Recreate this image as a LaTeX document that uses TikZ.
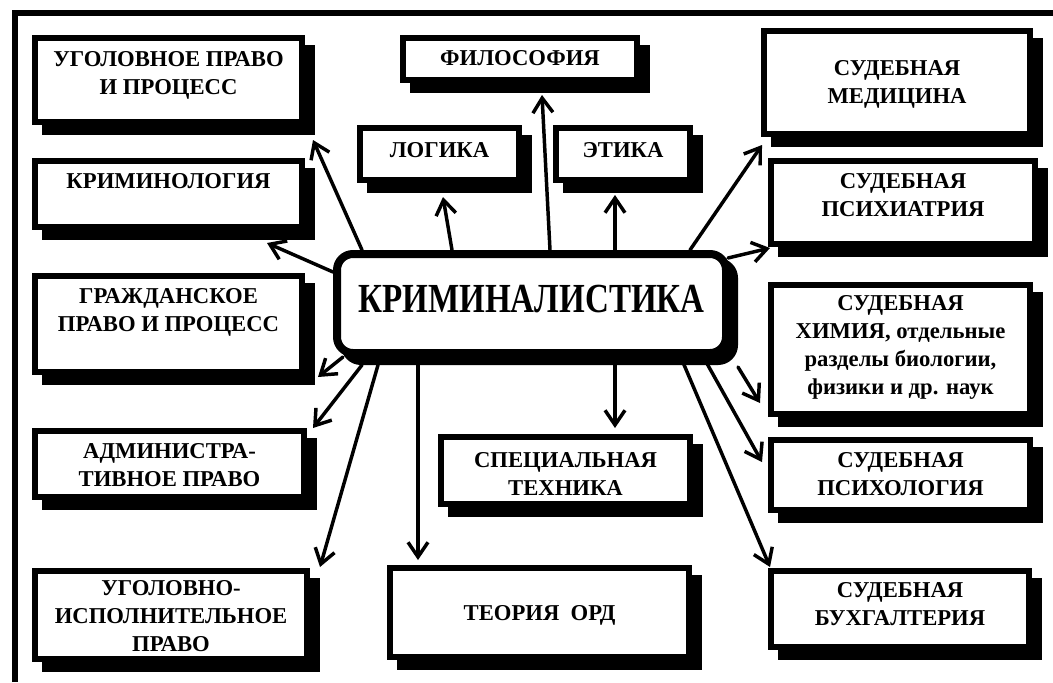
\documentclass[tikz,border=0pt]{standalone}
\usepackage{fontspec}
\setmainfont{Liberation Serif}
\newfontfamily\critfont[FakeStretch=0.8]{Liberation Serif}
\usetikzlibrary{arrows.meta,shadows,calc}

\tikzset{
  box/.style={draw, line width=4.5pt, fill=white, align=center, inner sep=1pt,
    font=\bfseries\fontsize{17}{21}\selectfont, text height=12pt,
    drop shadow={shadow xshift=7.5pt, shadow yshift=-7.5pt, opacity=1, fill=black, draw=black, line width=4.5pt}},
  crimbox/.style={draw, line width=6pt, rounded corners=12pt, fill=white, inner sep=1pt,
    font=\critfont\bfseries\fontsize{31}{36}\selectfont, text height=21pt,
    drop shadow={shadow xshift=6pt, shadow yshift=-6pt, opacity=1, fill=black, draw=black, line width=6pt}},
  link/.style={->, line width=2.6pt, line cap=round},
}

\begin{document}
\begin{tikzpicture}[x=0.75pt, y=-0.75pt, >={Straight Barb[length=11pt,width=15pt]}]
  \useasboundingbox (0,0) rectangle (1053,682);

  % frame
  \draw[line width=4.5pt] (15,682) -- (15,13) -- (1053,13);

  % central node
  \node[crimbox, minimum width=291.75pt, minimum height=74.25pt, text depth=8.25pt] (crim) at (531.5,303.5) {КРИМИНАЛИСТИКА};

  % left column
  \node[box, minimum width=200.25pt, minimum height=63pt, text height=33pt, text depth=12pt] (ugol) at (168.5,80) {УГОЛОВНОЕ ПРАВО\\И ПРОЦЕСС};
  \node[box, minimum width=200.25pt, minimum height=49.5pt, text depth=20.25pt] (krimin) at (168.5,194) {КРИМИНОЛОГИЯ};
  \node[box, minimum width=200.25pt, minimum height=72pt, text height=33pt, text depth=21.75pt] (grazhd) at (168.5,324) {ГРАЖДАНСКОЕ\\ПРАВО И ПРОЦЕСС};
  \node[box, minimum width=201.75pt, minimum height=49.5pt, text height=37.5pt, text depth=3.75pt] (admin) at (169.5,464) {АДМИНИСТРА-\\ТИВНОЕ ПРАВО};
  \node[box, minimum width=204pt, minimum height=66pt, text height=58pt, text depth=4pt] (ugolisp) at (171,615) {УГОЛОВНО-\\ИСПОЛНИТЕЛЬНОЕ\\ПРАВО};

  % top
  \node[box, minimum width=175.5pt, minimum height=31.5pt, text depth=2.25pt] (filos) at (520,59) {ФИЛОСОФИЯ};
  \node[box, minimum width=119.25pt, minimum height=39pt, text depth=6.75pt] (logika) at (439.5,154) {ЛОГИКА};
  \node[box, minimum width=100.5pt, minimum height=39pt, text depth=6.75pt] (etika) at (623,154) {ЭТИКА};

  % bottom
  \node[box, minimum width=186.75pt, minimum height=50.25pt, text height=42pt, text depth=5.25pt] (spec) at (565.5,470.5) {СПЕЦИАЛЬНАЯ\\ТЕХНИКА};
  \node[box, minimum width=224.25pt, minimum height=66.75pt, text depth=0pt] (teoria) at (539.5,612.5) {ТЕОРИЯ~~ОРД};

  % right column
  \node[box, minimum width=199.5pt, minimum height=77.25pt, text height=33pt, text depth=1.5pt] (sudmed) at (897,82.5) {СУДЕБНАЯ\\МЕДИЦИНА};
  \node[box, minimum width=198pt, minimum height=62.25pt, text height=33pt, text depth=12pt] (psychiat) at (903,202.5) {СУДЕБНАЯ\\ПСИХИАТРИЯ};
  \node[box, minimum width=194.25pt, minimum height=96.75pt, text height=75pt, text depth=7.5pt] (himia) at (900.5,349.5) {СУДЕБНАЯ\\ХИМИЯ, отдельные\\разделы биологии,\\физики и др. наук};
  \node[box, minimum width=194.25pt, minimum height=52.5pt, text height=33pt, text depth=2.25pt] (psychol) at (900.5,475) {СУДЕБНАЯ\\ПСИХОЛОГИЯ};
  \node[box, minimum width=193.5pt, minimum height=57pt, text height=33pt, text depth=8.25pt] (buh) at (900,609) {СУДЕБНАЯ\\БУХГАЛТЕРИЯ};

  % links
  \draw[link] ($(crim.north west)+(29,0)$) -- ($(ugol.south east)+(8,15)$);
  \draw[link] ($(crim.north west)+(0,22)$) -- ($(krimin.south east)+(-38,13)$);
  \draw[link] ($(crim.south west)+(10,0)$) -- ($(grazhd.south east)+(13,2)$);
  \draw[link] ($(crim.south west)+(29,8)$) -- ($(admin.north east)+(6,0)$);
  \draw[link] ($(crim.south west)+(45,8)$) -- ($(ugolisp.north east)+(10,-1)$);
  \draw[link] ($(crim.south west)+(85,8)$) -- ($(teoria.north west)+(31,-5)$);
  \draw[link] ($(crim.south west)+(282,8)$) -- ($(spec.north west)+(177,-6)$);
  \draw[link] ($(crim.south east)+(-48,3)$) -- ($(buh.north west)+(2,-1)$);
  \draw[link] ($(crim.south east)+(-25,3)$) -- ($(psychol.north west)+(-6,25)$);
  \draw[link] ($(crim.south east)+(8,10)$) -- ($(himia.south west)+(-8,-14)$);
  \draw[link] ($(crim.north east)+(-2,8)$) -- ($(psychiat.south west)+(2,1)$);
  \draw[link] ($(crim.north east)+(-40,0)$) -- ($(sudmed.south west)+(1,8)$);
  \draw[link] ($(crim.north west)+(282,0)$) -- ($(etika.south west)+(62,12)$);
  \draw[link] ($(crim.north west)+(217,0)$) -- ($(filos.south west)+(142,12)$);
  \draw[link] ($(crim.north west)+(119,0)$) -- ($(logika.south west)+(86,14)$);
\end{tikzpicture}
\end{document}
